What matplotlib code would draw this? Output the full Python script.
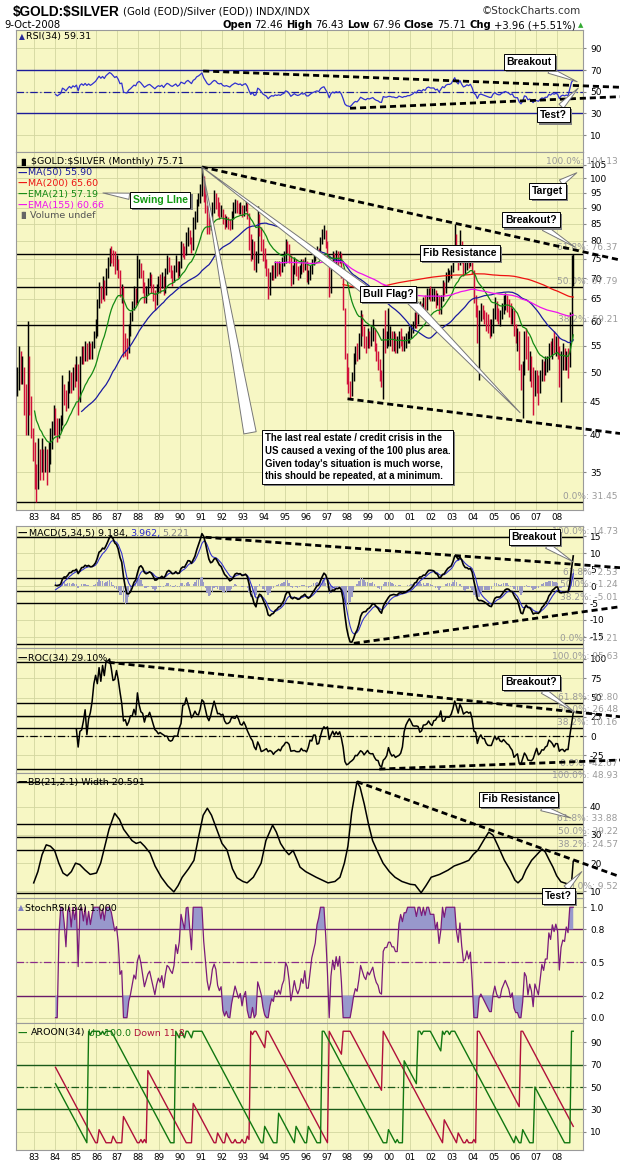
import numpy as np
import pandas as pd
import matplotlib
matplotlib.use("Agg")
import matplotlib.pyplot as plt
import matplotlib.patheffects as pe
from matplotlib.ticker import NullLocator

# Gold / Silver ratio, monthly bars Mar 1982 .. Oct 2008
closes = [
    47, 53, 49, 50, 44, 41, 52, 45, 41, 38,                          # 1982 (Mar-Dec)
    34, 33, 37.5, 35.5, 38, 35.5, 37, 36, 37.5, 38.5, 40.5, 43,      # 1983
    41.5, 40, 41, 42, 47, 46, 44.5, 47, 49, 47.5, 50, 49,            # 1984
    51, 45.5, 52, 54, 52.5, 55, 53, 55, 53.5, 55, 57, 59,            # 1985
    63, 67, 65, 68, 66, 71, 74, 77, 76, 74, 72, 74,                  # 1986
    71, 66, 67, 55, 54, 53.5, 58, 60, 63, 66, 65, 71,                # 1987
    73, 71, 68, 65, 67, 69, 70, 68, 66, 64, 67, 69,                  # 1988
    68, 70, 67, 71, 74, 73, 71, 70, 72, 74, 71, 73,                  # 1989
    78, 77, 76, 80, 82, 80, 78, 84, 86, 91, 93, 96,                  # 1990
    100, 94, 90, 86, 84, 86, 90, 93, 92, 89, 88, 89,                 # 1991
    86, 85, 86, 85, 84, 87, 89, 91, 90, 89, 90, 88,                  # 1992
    90, 91, 88, 82, 76, 79, 74, 75, 86, 84, 80, 76,                  # 1993
    74, 72, 67, 70, 72, 71, 73, 72, 73, 72, 74, 75,                  # 1994
    79, 78, 75, 70, 72, 74, 72, 71, 72, 74, 73, 74,                  # 1995
    70, 70, 72, 74, 75, 76, 77, 76, 80, 82, 83, 79,                  # 1996
    75, 67, 73, 75.5, 74, 76, 74.5, 76, 72, 64, 53, 49,              # 1997
    48, 46.5, 49, 52, 54, 53, 56, 60, 58, 56, 55, 57,                # 1998
    56, 57, 58, 55, 53, 52, 49.5, 49, 57, 56, 56, 57,                # 1999
    57, 56, 56, 55, 55, 57, 56, 55, 56, 56, 57, 57,                  # 2000
    58, 59, 61, 60, 63, 63, 62, 64, 63, 66, 67, 66,                  # 2001
    66, 66, 64, 65, 62, 65, 68, 67, 70, 71, 71, 72,                  # 2002
    76, 80, 76, 74, 79, 75, 72, 73, 75, 74, 76, 72,                  # 2003
    65, 63, 57, 62, 63, 62, 61, 60, 59, 58, 58, 62,                  # 2004
    64, 62, 61, 61, 63, 64, 65, 64, 63, 61, 62, 58,                  # 2005
    57, 57, 51, 48, 51, 57, 56, 51, 52, 49, 46, 49,                  # 2006
    48, 47, 49, 51, 50, 51.5, 51.5, 55, 54, 56, 55, 56,              # 2007
    55, 49, 52, 53, 52, 53, 52, 61, 71.75, 75.71,                    # 2008 (Jan-Oct)
]
highs = [
    51, 55, 54, 53, 51, 48, 60, 53, 46, 41,
    39, 36, 39.5, 38, 39.5, 38, 38.5, 38, 39, 41, 42, 44.5,
    44, 42.5, 42.5, 43, 49.5, 48, 47, 48.5, 50.5, 50, 51, 51.5,
    53, 51.5, 53, 55, 55, 56, 55.5, 56, 55.5, 56, 58, 60.5,
    65, 69, 68, 70.5, 69.5, 72.5, 75.5, 78, 78.6, 77.5, 77, 76,
    75, 72, 68.5, 68, 57.5, 56.5, 59.5, 62, 64.5, 68, 67.5, 76,
    75, 74, 72, 69, 68, 70, 71.5, 71, 68.5, 67, 68.5, 70.5,
    71, 71.5, 70.5, 72.5, 76, 75.5, 73.5, 72, 73.5, 76, 74.5, 74.5,
    80, 79.5, 78.5, 82.5, 84, 83, 81, 87, 89, 93, 95, 98,
    104.13, 101, 96, 91, 88, 88.5, 92, 96, 95, 93.5, 92, 91,
    89.5, 88, 87.5, 87, 86.5, 89, 92, 93, 92.5, 91.5, 92, 91,
    91, 92.5, 91.5, 88.5, 82, 80.5, 80, 77, 90.5, 88, 84, 80.5,
    78, 75, 72.5, 71.5, 73.5, 73.5, 74.5, 74.5, 74.5, 74, 75.5, 77,
    80.5, 80, 79, 76, 73.5, 75.5, 75, 73, 73.5, 75, 75, 75.5,
    74.5, 72, 73.5, 75, 76.5, 77, 78.5, 78, 81, 83.5, 84.5, 83,
    80, 76, 74.5, 77, 76.5, 77.5, 77, 77, 76.5, 72.5, 63, 53.5,
    51, 48.5, 50, 53.5, 55, 55.5, 57.5, 62.5, 61.5, 59, 57, 58.5,
    58, 59, 60.5, 58.5, 55.5, 54, 52.5, 50.5, 58.5, 62.5, 58, 63,
    59, 58, 58, 57.5, 57, 58, 58.5, 57, 57, 57.5, 58, 59,
    59.5, 60, 62, 62, 64, 64.5, 64, 65.5, 66, 67.5, 67.5, 68,
    67.5, 67.5, 67, 66.5, 66, 66, 69.5, 69, 71.5, 72.5, 72, 73.5,
    77.5, 85, 82, 76.5, 83, 80, 76, 75, 76.5, 76, 77.5, 76.5,
    72, 66, 63.5, 62.5, 64, 63.5, 62.5, 62, 61.5, 60.5, 60.5, 63,
    65.5, 64.5, 63, 62.5, 64, 66, 66.5, 66, 65, 64, 63, 62.5,
    59.5, 58.5, 58, 51.5, 52, 58, 58.5, 57, 54, 53, 51, 50.5,
    50.5, 49.5, 50.5, 52.5, 52, 53, 53, 55.5, 56, 56.5, 58, 57,
    57, 55, 54, 55.5, 54.5, 54, 54.5, 62, 76, 76.43,
]
lows = [
    46, 47, 48, 48, 43, 40, 40, 43, 39.5, 36.5,
    33, 31.45, 33, 34, 35, 34, 35, 33.5, 35, 36, 38, 40,
    40, 39, 39.5, 40.5, 41.5, 44.5, 43.5, 44, 46.5, 46.5, 47, 47.5,
    48.5, 43, 45, 51.5, 51.5, 52, 52, 52.5, 52.5, 52.5, 54.5, 56.5,
    57, 63, 64, 65, 64.5, 66, 70, 73, 74, 73, 71, 72,
    70, 65.5, 64, 52.8, 53, 52.5, 53.5, 57, 60, 62.5, 63.5, 64,
    70, 70, 66.5, 64, 64, 66, 68, 66.5, 64.5, 62.5, 63.5, 66.5,
    66.5, 67.5, 66, 66.5, 71, 71.5, 70, 68, 69, 71.5, 70, 70.5,
    72.5, 75.5, 75, 76, 78.5, 79, 76.5, 77.5, 83.5, 85.5, 90.5, 91.5,
    94, 92, 88.5, 82, 82, 83, 85.5, 88.5, 89.5, 87.5, 86.5, 87,
    85, 83.5, 84, 83.5, 83, 83.5, 86.5, 88.5, 88.5, 88, 88, 87,
    87.5, 89, 86.5, 77.5, 74.5, 75, 72, 71.5, 74, 81.5, 77, 74.5,
    72.5, 70.5, 65, 66, 69.5, 69.5, 70, 70.5, 71, 70.5, 71.5, 73,
    74, 76.5, 74, 68, 68.5, 71, 70.5, 69.5, 70, 71, 71.5, 72,
    69, 68.5, 69.5, 71, 73.5, 74.5, 75.5, 75, 75.5, 79, 80.5, 78,
    74, 65.5, 66.5, 72.5, 73, 73.5, 73, 74, 70, 62.5, 52.5, 48,
    46.5, 45.5, 46, 48.5, 51.5, 52, 52.5, 55, 57, 54.5, 53.5, 54.5,
    54.5, 55, 56, 54, 52, 50.5, 48.5, 47.5, 45.4, 53.5, 54.5, 55,
    55, 54, 54, 53.5, 53.5, 54.5, 55, 54, 54, 54.5, 55.5, 55.5,
    56.5, 57.5, 58.5, 58.5, 59.5, 61.5, 61, 61.5, 61.5, 62.5, 65, 64.5,
    64.5, 64.5, 63, 63.5, 61.5, 61.5, 64.5, 66, 66.5, 69, 69.5, 70,
    71.5, 75.5, 74.5, 72, 73.5, 74, 70.5, 71, 72, 72.5, 73, 71,
    64, 61, 55.5, 48.6, 60, 60.5, 59.5, 58, 57.5, 56.5, 57, 57.5,
    60.5, 60, 59.5, 59, 60.5, 61.5, 62.5, 62, 61, 59.5, 59.5, 57,
    55.5, 54, 50.5, 47, 42.5, 49.5, 52.5, 50.5, 48.5, 47.5, 43, 46,
    46.5, 44.5, 46.5, 48.5, 48.5, 49.5, 50, 50.5, 53, 52.5, 53.5, 53,
    52.5, 47.5, 45, 50.5, 50.5, 50.5, 49, 51, 56, 67.96,
]
assert len(closes) == len(highs) == len(lows) == 320

# BB(21,2.1) Width
bb_dates = [1983.0, 1983.2, 1983.4, 1983.6, 1983.8, 1984.0, 1984.2, 1984.4, 1984.6, 1984.8,
            1985.0, 1985.2, 1985.45, 1985.7, 1986.0, 1986.2, 1986.4, 1986.6, 1986.87, 1987.1,
            1987.3, 1987.5, 1987.7, 1987.9, 1988.1, 1988.3, 1988.56, 1988.8, 1989.1, 1989.4,
            1989.7, 1989.9, 1990.1, 1990.4, 1990.66, 1990.9, 1991.1, 1991.3, 1991.5, 1991.8,
            1992.0, 1992.24, 1992.5, 1992.72, 1993.0, 1993.2, 1993.5, 1993.87, 1994.1, 1994.42,
            1994.6, 1994.8, 1995.0, 1995.2, 1995.4, 1995.6, 1995.73, 1996.0, 1996.5, 1997.07,
            1997.4, 1997.64, 1997.85, 1998.02, 1998.2, 1998.45, 1998.6, 1998.8, 1999.0, 1999.2,
            1999.4, 1999.7, 2000.0, 2000.27, 2000.6, 2001.0, 2001.23, 2001.52, 2001.75, 2002.0,
            2002.4, 2002.8, 2003.1, 2003.47, 2003.8, 2004.0, 2004.24, 2004.5, 2004.75, 2004.95,
            2005.2, 2005.5, 2005.77, 2006.0, 2006.15, 2006.35, 2006.53, 2006.8, 2007.05, 2007.3,
            2007.45, 2007.65, 2007.82, 2008.0, 2008.2, 2008.45, 2008.65, 2008.72, 2008.79]
bb_vals = [13, 17, 23, 26.5, 26, 24.5, 20, 16.5, 15.5, 17,
           20, 19.5, 17.6, 16, 16.5, 20, 26, 32, 37.7, 35.5,
           32, 30, 28, 27, 27.5, 26, 23.6, 19, 15, 12,
           9.8, 12, 15, 18, 21, 30, 37, 39.5, 37, 31,
           27, 24.7, 18, 14.8, 13.5, 13, 15, 20, 28, 33.5,
           31, 27, 24.7, 23, 24.5, 21, 18.6, 17, 15, 13,
           13.5, 15, 20, 26, 38, 48.9, 47, 41, 34, 28,
           24.7, 20, 17, 15, 13.5, 12.5, 12.3, 9.5, 12, 15,
           16, 17.5, 19, 20, 21, 23, 24.7, 28, 31, 30,
           26, 21, 17.6, 14, 13, 14.5, 17.6, 21, 23, 25,
           24, 21, 18.6, 15.5, 13.4, 12.8, 12.2, 14, 20.6]
assert len(bb_dates) == len(bb_vals)

years = list(range(1983, 2009))
year_labels = ["%02d" % (y % 100) for y in years]

# Fibonacci anchors as printed on the chart (0% value, 100% value)
fib_main = (31.45, 104.13)
fib_macd = (-17.21, 14.73)
fib_roc = (-42.67, 95.63)
fib_bb = (9.52, 48.93)
fib_pcts = [0.0, 38.2, 50.0, 61.8, 100.0]

# ---------------------------------------------------------------- indicators
t = 1982 + (2 + np.arange(len(closes)) + 0.5) / 12.0
c = pd.Series(closes, dtype=float)
hi = pd.Series(highs, dtype=float)
lo = pd.Series(lows, dtype=float)
opn = c.shift(1).fillna(c.iloc[0])

ma50 = c.rolling(50, min_periods=38).mean()
ma200 = c.rolling(200, min_periods=188).mean()
ema21 = c.ewm(span=21).mean().where(c.index >= 10)
ema155 = c.ewm(span=155).mean().where(c.index >= 148)

d = c.diff()
up = d.clip(lower=0).ewm(alpha=1 / 34).mean()
dn = (-d).clip(lower=0).ewm(alpha=1 / 34).mean()
rsi = (100 - 100 / (1 + up / dn)).where(c.index >= 22)

macd = c.ewm(span=5).mean() - c.ewm(span=34).mean()
sig = macd.ewm(span=5).mean()
hist = macd - sig
macd, sig, hist = [s.where(c.index >= 22) for s in (macd, sig, hist)]

roc = c.pct_change(34) * 100

rmin = rsi.rolling(34, min_periods=2).min()
rmax = rsi.rolling(34, min_periods=2).max()
stoch = ((rsi - rmin) / (rmax - rmin)).fillna(0).where(rsi.notna())

age_hi = hi.rolling(35, min_periods=23).apply(lambda w: np.argmax(w[::-1]), raw=True)
age_lo = lo.rolling(35, min_periods=23).apply(lambda w: np.argmin(w[::-1]), raw=True)
aroon_up = 100 * (34 - age_hi) / 34
aroon_dn = 100 * (34 - age_lo) / 34

# ---------------------------------------------------------------- figure
W, H = 620, 1165
fig = plt.figure(figsize=(W / 100, H / 100), dpi=100)
fig.patch.set_facecolor("white")
BG = "#F7F7C4"
GRID = "#D3D6A0"
L, R = 16, 583
PX = 20.92
XL = (1983 + (L - 33.7) / PX, 1983 + (R - 33.7) / PX)
X_END = 1983 + (620 - 33.7) / PX
SANS = "DejaVu Sans"
ARIAL = "Liberation Sans"


def ftext(x, y, s, **kw):
    kw.setdefault("va", "center")
    return fig.text(x / W, 1 - y / H, s, **kw)


def trow(x, y, pieces, fs, gap=3, family=SANS):
    r = fig.canvas.get_renderer()
    for s, kw in pieces:
        opts = dict(fontsize=fs, family=family)
        opts.update(kw)
        tx = ftext(x, y, s, **opts)
        x += tx.get_window_extent(renderer=r).width + gap
    return x


def panel(top, bottom, ylim, yticks, ylabels=None, log=False):
    ax = fig.add_axes([L / W, 1 - bottom / H, (R - L) / W, (bottom - top) / H])
    ax.set_facecolor(BG)
    if log:
        ax.set_yscale("log")
    ax.set_xlim(XL)
    ax.set_ylim(ylim)
    ax.set_xticks(years)
    ax.tick_params(axis="x", length=0, labelbottom=False)
    ax.yaxis.tick_right()
    ax.set_yticks(yticks)
    ax.yaxis.set_minor_locator(NullLocator())
    ax.set_yticklabels(ylabels if ylabels else [str(v) for v in yticks])
    ax.tick_params(axis="y", length=2, labelsize=6.5, pad=3, color="#888888")
    ax.grid(True, color=GRID, lw=0.6)
    ax.set_axisbelow(True)
    for s in ax.spines.values():
        s.set_color("#9a9a9a")
        s.set_linewidth(0.8)
    return ax


def fib(ax, anchors):
    lo_v, hi_v = anchors
    for p in fib_pcts:
        v = lo_v + (hi_v - lo_v) * p / 100
        ax.axhline(v, color="black", lw=1.0, zorder=2)
        ax.annotate("%.1f%%: %.2f" % (p, v), xy=(1, v), xycoords=("axes fraction", "data"),
                    xytext=(25, 1), textcoords="offset points", ha="right", va="bottom",
                    fontsize=6.5, color="#9a9a9a", family=SANS, annotation_clip=False, zorder=3)


def trend(ax, p0, p1):
    ax.plot([p0[0], p1[0]], [p0[1], p1[1]], color="black", lw=2.0, ls=(0, (2.2, 1.4)),
            clip_on=False, zorder=6)


def callout(ax, text, box, tip=None, color="black", fs=7.5, **kw):
    an = ax.annotate(text, xy=tip if tip else box, xytext=box, ha="center", va="center",
                     fontsize=fs, fontweight="bold", family=ARIAL, color=color,
                     bbox=dict(boxstyle="square,pad=0.28", fc="white", ec="black", lw=0.7),
                     arrowprops=(dict(arrowstyle="wedge,tail_width=0.5,shrink_factor=0.5",
                                      fc="white", ec="#777777", lw=0.7, shrinkA=0, shrinkB=0,
                                      mutation_scale=9) if tip else None),
                     annotation_clip=False, zorder=20, **kw)
    an.get_bbox_patch().set_path_effects([pe.withSimplePatchShadow(offset=(1.5, -1.5),
                                                                   shadow_rgbFace="#808080", alpha=1)])
    return an


def pointer(ax, base, tip, width=0.9):
    ax.annotate("", xy=tip, xytext=base,
                arrowprops=dict(arrowstyle="wedge,tail_width=%.2f,shrink_factor=0.5" % width,
                                fc="white", ec="#777777", lw=0.7, shrinkA=0, shrinkB=0,
                                mutation_scale=9),
                annotation_clip=False, zorder=19)


# ---------------------------------------------------------------- header
ftext(13, 12, r"\$GOLD:\$SILVER", fontsize=9.8, family=ARIAL, fontweight="bold")
ftext(123, 12, "(Gold (EOD)/Silver (EOD)) INDX/INDX", fontsize=7.3, family=SANS)
ftext(581, 11, "\u00a9StockCharts.com", fontsize=7.5, family=SANS, ha="right", color="#333333")
ftext(4, 25, "9-Oct-2008", fontsize=7.2, family=SANS)
trow(222, 25, [("Open", dict(fontweight="bold")), ("72.46", {}), ("High", dict(fontweight="bold")),
               ("76.43", {}), ("Low", dict(fontweight="bold")), ("67.96", {}),
               ("Close", dict(fontweight="bold")), ("75.71", {}), ("Chg", dict(fontweight="bold")),
               ("+3.96 (+5.51%)", {}), ("\u25b2", dict(color="#33aa33", fontsize=5))], 7.2, gap=3)

# ---------------------------------------------------------------- RSI
ax1 = panel(30, 152, (-5.7, 107), [10, 30, 50, 70, 90])
ax1.axhline(70, color="#1c1c9a", lw=1.0)
ax1.axhline(30, color="#1c1c9a", lw=1.0)
ax1.axhline(50, color="#1c1c9a", lw=0.9, ls=(0, (6, 2, 1, 2)))
ax1.plot(t, rsi, color="#3030d0", lw=0.9, zorder=4)
trend(ax1, (1991.1, 69.1), (X_END, 54.1))
trend(ax1, (1998.12, 34.7), (X_END, 45.4))
callout(ax1, "Breakout", (2006.68, 77.4), (2008.98, 59.2))
callout(ax1, "Test?", (2007.85, 28.9), (2009.03, 53.4))
trow(19, 37, [("\u25b2", dict(color="#2a2a9a", fontsize=5.5)), ("RSI(34) 59.31", {})], 6.8, gap=1)

# ---------------------------------------------------------------- price
ax2 = panel(152, 510, (30.59, 109.85), list(range(35, 106, 5)), log=True)
ax2.set_xticks(years)
ax2.set_xticklabels(year_labels)
ax2.tick_params(axis="x", labelbottom=True, labelsize=6.3, pad=2)
fib(ax2, fib_main)
bar_col = np.where(c >= opn, "black", "#d0103a")
ax2.vlines(t, lo, hi, colors=bar_col, lw=1.05, zorder=4)
ax2.plot(t, ma50, color="#1a1aa0", lw=0.9, zorder=5)
ax2.plot(t, ma200, color="#ee1111", lw=0.9, zorder=5)
ax2.plot(t, ema21, color="#138a13", lw=0.9, zorder=5)
ax2.plot(t, ema155, color="#ee11ee", lw=0.9, zorder=5)
trend(ax2, (1991.04, 104.13), (X_END, 74.7))
trend(ax2, (1998.0, 45.5), (X_END, 40.2))
pointer(ax2, (1993.34, 40.3), (1991.04, 104.13), width=1.0)
pointer(ax2, (1998.85, 67.1), (1991.04, 104.13), width=0.7)
pointer(ax2, (2000.99, 64.8), (2006.25, 43.3), width=0.7)
callout(ax2, "Swing LIne", (1989.04, 92.5), (1986.31, 94.9), color="#119911")
callout(ax2, "Target", (2007.58, 95.6), (2008.96, 102.0))
callout(ax2, "Breakout?", (2006.77, 86.3), (2008.87, 78.2))
callout(ax2, "Fib Resistance", (2003.37, 76.5))
callout(ax2, "Bull Flag?", (1999.94, 66.2))
callout(ax2, "The last real estate / credit crisis in the\nUS caused a vexing of the 100 plus area.\n"
             "Given today's situation is much worse,\nthis should be repeated, at a minimum.",
        (1998.48, 36.95), fs=6.9, multialignment="left", linespacing=1.35)

trow(18, 162, [("\u2590\u258c", dict(fontsize=5)), (r"\$GOLD:\$SILVER (Monthly) 75.71", {})], 6.8, gap=2)
legend_rows = [("MA(50) 55.90", "#1a1aa0"), ("MA(200) 65.60", "#ee1111"),
               ("EMA(21) 57.19", "#138a13"), ("EMA(155) 60.66", "#ee11ee")]
for k, (s, col) in enumerate(legend_rows):
    trow(18, 173 + k * 10.7, [("\u2014", dict(color=col, fontweight="bold")), (s, dict(color=col))], 6.8, gap=1)
trow(18, 173 + 4 * 10.7, [("\u2590\u258c", dict(color="#666666", fontsize=5)),
                          ("Volume undef", dict(color="#555555"))], 6.8, gap=1)

# ---------------------------------------------------------------- MACD
ax3 = panel(526, 648, (-18.4, 18.1), [-15, -10, -5, 0, 5, 10, 15])
fib(ax3, fib_macd)
ax3.bar(t, hist, width=0.065, color="#9c9cc4", zorder=3)
ax3.plot(t, sig, color="#3333cc", lw=0.8, zorder=4)
ax3.plot(t, macd, color="black", lw=1.2, zorder=5)
trend(ax3, (1991.21, 14.73), (X_END, 5.63))
trend(ax3, (1998.3, -17.0), (X_END, -6.05))
callout(ax3, "Breakout", (2006.92, 14.7), (2008.78, 7.4))
trow(18, 533, [("\u2014", dict(fontweight="bold")), ("MACD(5,34,5) 9.184,", {}),
               ("3.962,", dict(color="#2a2acc")), ("5.221", dict(color="#888888"))], 6.8, gap=2)

# ---------------------------------------------------------------- ROC
ax4 = panel(648, 773, (-47.8, 114.2), [-25, 0, 25, 50, 75, 100])
fib(ax4, fib_roc)
ax4.axhline(0, color="black", lw=0.9, ls=(0, (6, 2, 1, 2)))
ax4.plot(t, roc, color="black", lw=1.1, zorder=5)
trend(ax4, (1986.58, 95.63), (X_END, 25.1))
trend(ax4, (1999.52, -42.67), (X_END, -31.0))
callout(ax4, "Breakout?", (2006.77, 69.5), (2008.92, 29.9))
trow(18, 658, [("\u2014", dict(fontweight="bold")), ("ROC(34) 29.10%", {})], 6.8, gap=1)

# ---------------------------------------------------------------- BB width
ax5 = panel(773, 898, (7.63, 52.0), [10, 20, 30, 40])
ax5.set_zorder(3)
fib(ax5, fib_bb)
ax5.plot(bb_dates, bb_vals, color="black", lw=1.1, zorder=5)
trend(ax5, (1998.45, 48.92), (X_END, 15.2))
callout(ax5, "Fib Resistance", (2006.17, 42.6), (2008.69, 36.0))
callout(ax5, "Test?", (2008.09, 8.2), (2009.2, 17.0))
trow(18, 782, [("\u2014", dict(fontweight="bold")), ("BB(21,2.1) Width 20.591", {})], 6.8, gap=1)

# ---------------------------------------------------------------- StochRSI
ax6 = panel(898, 1023, (-0.048, 1.084), [0.0, 0.2, 0.5, 0.8, 1.0],
            ["0.0", "0.2", "0.5", "0.8", "1.0"])
ax6.axhline(0.8, color="#6a1a6a", lw=1.0)
ax6.axhline(0.2, color="#6a1a6a", lw=1.0)
ax6.axhline(0.5, color="#8a2a8a", lw=0.9, ls=(0, (6, 2, 1, 2)))
ax6.fill_between(t, stoch, 0.8, where=stoch >= 0.8, interpolate=True, color="#9898cc", lw=0, zorder=3)
ax6.fill_between(t, stoch, 0.2, where=stoch <= 0.2, interpolate=True, color="#9898cc", lw=0, zorder=3)
ax6.plot(t, stoch, color="#7a1a7a", lw=0.9, zorder=5)
trow(18, 908, [("\u25b2", dict(color="#8080c0", fontsize=5.5)), ("StochRSI(34) 1.000", {})], 6.8, gap=1)

# ---------------------------------------------------------------- Aroon
ax7 = panel(1023, 1150, (-6.5, 107.4), [10, 30, 50, 70, 90])
ax7.axhline(70, color="#1a5a1a", lw=1.0)
ax7.axhline(30, color="#1a5a1a", lw=1.0)
ax7.axhline(50, color="#1a5a1a", lw=0.9, ls=(0, (6, 2, 1, 2)))
ax7.plot(t, aroon_dn, color="#b0103a", lw=1.0, zorder=5)
ax7.plot(t, aroon_up, color="#117711", lw=1.0, zorder=5)
ax7.set_xticklabels(year_labels)
ax7.tick_params(axis="x", labelbottom=True, labelsize=6.3, pad=2)
trow(18, 1033, [("\u2014", dict(color="#117711", fontweight="bold")), ("AROON(34)", {}),
                ("Up 100.0", dict(color="#117711")), ("Down 11.8", dict(color="#b0103a"))], 6.8, gap=3)

fig.savefig("out.png", dpi=100, facecolor="white")
